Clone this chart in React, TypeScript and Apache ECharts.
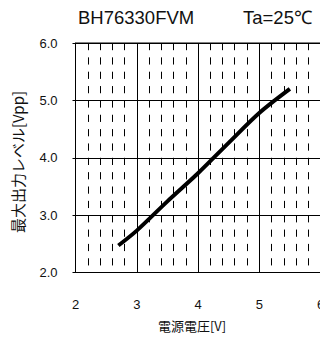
import React, { useEffect, useRef } from "react";
import * as echarts from "echarts";

const supplyVoltage = [2.7, 3.0, 3.5, 4.0, 4.5, 5.0, 5.5];
const maxOutputLevel = [2.47, 2.73, 3.24, 3.73, 4.26, 4.78, 5.2];
const xTicks = [2, 3, 4, 5, 6];
const yTicks = [2, 3, 4, 5, 6];
const titleText = "BH76330FVM";
const condText = "Ta=25℃";
const xName = "電源電圧[V]";
const yName = "最大出力レベル[Vpp]";

export default function App() {
  const ref = useRef<HTMLDivElement>(null);
  useEffect(() => {
    if (!ref.current) return;
    const chart = echarts.init(ref.current, null, { renderer: "svg" });
    const font = "'Liberation Sans', Arial, sans-serif";
    const cjk = "'Noto Sans CJK JP', sans-serif";
    chart.setOption({
      animation: false,
      grid: { left: 75.5, top: 43, width: 245, height: 229.5, show: true, borderColor: "#000", borderWidth: 1 },
      xAxis: {
        type: "value",
        min: xTicks[0],
        max: xTicks[xTicks.length - 1],
        interval: 1,
        axisLine: { show: true, lineStyle: { color: "#000", width: 1 } },
        axisTick: { show: false },
        minorTick: { show: false, splitNumber: 5 },
        minorSplitLine: { show: true, lineStyle: { color: "#000", width: 1, type: [7.2, 7.15] } },
        splitLine: { show: true, lineStyle: { color: "#000", width: 1 } },
        axisLabel: { margin: 25, fontSize: 13, color: "#111", fontFamily: font },
      },
      yAxis: {
        type: "value",
        min: yTicks[0],
        max: yTicks[yTicks.length - 1],
        interval: 1,
        axisLine: { show: true, lineStyle: { color: "#000", width: 1 } },
        axisTick: { show: true, length: 3, lineStyle: { color: "#000" } },
        splitLine: { show: true, lineStyle: { color: "#000", width: 1 } },
        axisLabel: { margin: 18, fontSize: 13, color: "#111", fontFamily: font, formatter: (v: number) => v.toFixed(1) },
      },
      graphic: [
        { type: "text", left: 78, top: 8, style: { text: titleText, fontSize: 18.5, fontFamily: font, fill: "#111" } },
        { type: "text", left: 243, top: 8, style: { text: condText, fontSize: 18.5, fontFamily: font, fill: "#111" } },
        { type: "text", x: 192, y: 325, style: { text: xName, fontSize: 13, fontFamily: cjk, fill: "#111", align: "center", verticalAlign: "middle" } },
        { type: "text", x: 17.5, y: 162, rotation: Math.PI / 2, style: { text: yName, fontSize: 15, fontFamily: cjk, fill: "#111", align: "center", verticalAlign: "middle" } },
      ],
      series: [
        {
          type: "line",
          data: supplyVoltage.map((x, i) => [x, maxOutputLevel[i]]),
          showSymbol: false,
          smooth: 0.3,
          lineStyle: { color: "#000", width: 4 },
        },
      ],
    });
    return () => chart.dispose();
  }, []);
  return (
    <div style={{ position: "absolute", left: 0, top: 0, width: 320, height: 338, overflow: "hidden", background: "#fff" }}>
      <div ref={ref} style={{ width: 345, height: 338 }} />
    </div>
  );
}
